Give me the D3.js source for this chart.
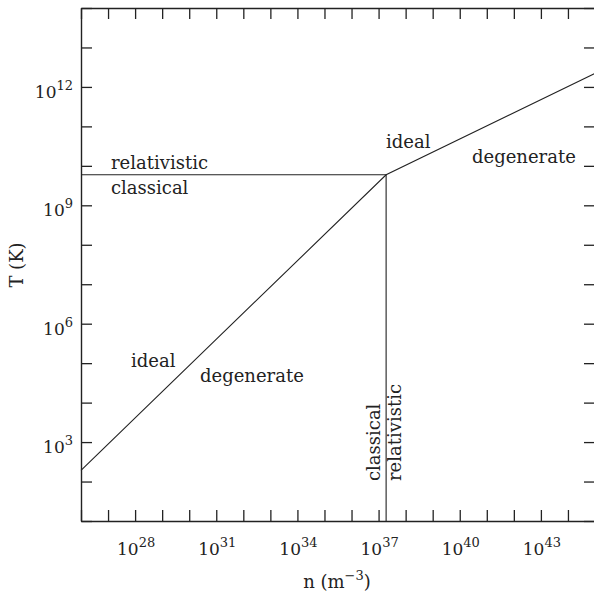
<!DOCTYPE html>
<html>
<head>
<meta charset="utf-8">
<script src="https://cdn.jsdelivr.net/npm/d3@7"></script>
<style>
  html, body { margin: 0; padding: 0; background: #fff; }
  svg text { font-family: "DejaVu Serif", "Liberation Serif", serif; fill: #222; }
</style>
</head>
<body>
<svg id="chart" width="594" height="599"></svg>
<script>
// Electron gas regimes in the density–temperature plane
// Ideal / degenerate boundary (kT ~ E_F): T ∝ n^(2/3) non-relativistic, T ∝ n^(1/3) relativistic
const boundaryN = [1e26, 1.9e37, 1e45];
const boundaryT = [1.92e2, 5.93e9, 2.2e12];

// Relativistic / classical thermal boundary (kT = m_e c^2)
const thermalN = [1e26, 1.9e37];
const thermalT = [5.93e9, 5.93e9];

// Relativistic / classical density boundary (p_F = m_e c)
const densityN = [1.9e37, 1.9e37];
const densityT = [1e1, 5.93e9];

// Axis ticks (one per decade) and labelled exponents
const xTickExp = [26,27,28,29,30,31,32,33,34,35,36,37,38,39,40,41,42,43,44,45];
const yTickExp = [1,2,3,4,5,6,7,8,9,10,11,12,13,14];
const xLabelExp = [28, 31, 34, 37, 40, 43];
const yLabelExp = [3, 6, 9, 12];

const svg = d3.select("#chart");
const L = 81, R = 595, T = 8, B = 521;

const x = d3.scaleLog().domain([1e26, 1e45]).range([L, R]);
const y = d3.scaleLog().domain([1e1, 1e14]).range([B, T]);

const xTicks = xTickExp.map(e => Math.pow(10, e));
const yTicks = yTickExp.map(e => Math.pow(10, e));
const TICK = 11;
const FS = 18, TFS = 17, SFS = 13;

function styleAxis(g) {
  g.selectAll("path.domain").attr("stroke", "#222").attr("stroke-width", 1.4);
  g.selectAll(".tick line").attr("stroke", "#222").attr("stroke-width", 1.3);
  g.selectAll(".tick text").remove();
}

svg.append("g").attr("transform", `translate(0,${B})`)
  .call(d3.axisBottom(x).tickValues(xTicks).tickSizeInner(-TICK).tickSizeOuter(0).tickFormat(""))
  .call(styleAxis);
svg.append("g").attr("transform", `translate(0,${T})`)
  .call(d3.axisTop(x).tickValues(xTicks).tickSizeInner(-TICK).tickSizeOuter(0).tickFormat(""))
  .call(styleAxis);
svg.append("g").attr("transform", `translate(${L},0)`)
  .call(d3.axisLeft(y).tickValues(yTicks).tickSizeInner(-TICK).tickSizeOuter(0).tickFormat(""))
  .call(styleAxis);
svg.append("g").attr("transform", `translate(${R},0)`)
  .call(d3.axisRight(y).tickValues(yTicks).tickSizeInner(-TICK).tickSizeOuter(0).tickFormat(""))
  .call(styleAxis);

// Power-of-ten labels
function powerLabel(sel, exp) {
  sel.append("tspan").text("10");
  sel.append("tspan").attr("font-size", SFS).attr("dy", -8).text(exp);
}
xLabelExp.forEach(e => {
  svg.append("text")
    .attr("x", x(Math.pow(10, e)) + 1)
    .attr("y", 555)
    .attr("text-anchor", "middle")
    .attr("font-size", TFS)
    .call(powerLabel, e);
});
yLabelExp.forEach(e => {
  svg.append("text")
    .attr("x", 73)
    .attr("y", y(Math.pow(10, e)) + 11)
    .attr("text-anchor", "end")
    .attr("font-size", TFS)
    .call(powerLabel, e);
});

// Axis titles
const xt = svg.append("text")
  .attr("x", 337).attr("y", 588)
  .attr("text-anchor", "middle").attr("font-size", FS);
xt.append("tspan").text("n (m");
xt.append("tspan").attr("font-size", SFS).attr("dy", -8).text("\u22123");
xt.append("tspan").attr("dy", 8).text(")");

svg.append("text")
  .attr("transform", "translate(23,265) rotate(-90)")
  .attr("text-anchor", "middle").attr("font-size", FS)
  .text("T (K)");

// Regime boundaries
const line = d3.line().x(d => x(d[0])).y(d => y(d[1]));
const lines = [
  d3.zip(boundaryN, boundaryT),
  d3.zip(thermalN, thermalT),
  d3.zip(densityN, densityT)
];
svg.append("g").selectAll("path").data(lines).join("path")
  .attr("d", line)
  .attr("fill", "none")
  .attr("stroke", "#222")
  .attr("stroke-width", 1.1);

// Regime labels
const labels = [
  { t: "relativistic", x: 111, y: 169 },
  { t: "classical",    x: 111, y: 194 },
  { t: "ideal",        x: 131, y: 367 },
  { t: "degenerate",   x: 200, y: 382 },
  { t: "ideal",        x: 386, y: 148 },
  { t: "degenerate",   x: 472, y: 163 }
];
svg.append("g").selectAll("text").data(labels).join("text")
  .attr("x", d => d.x).attr("y", d => d.y)
  .attr("font-size", FS)
  .text(d => d.t);

svg.append("text")
  .attr("transform", "translate(380,481) rotate(-90)")
  .attr("font-size", FS).text("classical");
svg.append("text")
  .attr("transform", "translate(401,481) rotate(-90)")
  .attr("font-size", FS).text("relativistic");
</script>
</body>
</html>
